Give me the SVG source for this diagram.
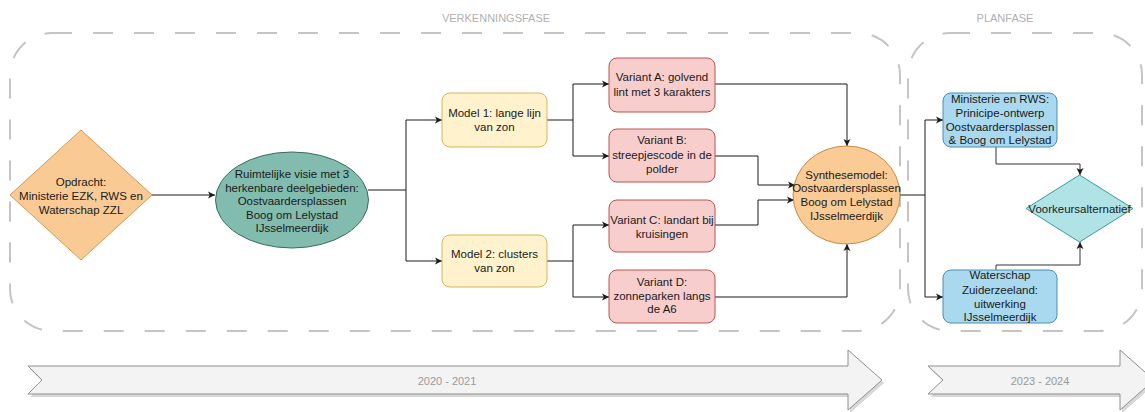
<svg xmlns="http://www.w3.org/2000/svg" width="1145" height="412" viewBox="0 0 1145 412">
<style>
.t{font-family:"Liberation Sans",Arial,sans-serif;font-size:11.5px;fill:#1a1a1a;text-anchor:middle}
.phase{font-family:"Liberation Sans",Arial,sans-serif;font-size:11px;fill:#b0b0b0;text-anchor:middle}
.yr{font-family:"Liberation Sans",Arial,sans-serif;font-size:11px;fill:#9a9a9a;text-anchor:middle}
.cont{fill:none;stroke:#c4c4c4;stroke-width:2;stroke-dasharray:20 21}
.model{fill:#fff2cc;stroke:#d6b656;stroke-width:1}
.var{fill:#f8cecc;stroke:#b85450;stroke-width:1}
.blue{fill:#a9d9ee;stroke:#4a8db5;stroke-width:1}
.c{fill:none;stroke:#1a1a1a;stroke-width:1}
.tl{fill:#f3f3f3;stroke:#8f8f8f;stroke-width:1}
</style>
<defs>
<marker id="ah" markerWidth="8" markerHeight="8" refX="7" refY="4" orient="auto" markerUnits="userSpaceOnUse">
<path d="M0,0.5 L7,4 L0,7.5 L1.8,4 Z" fill="#1a1a1a"/>
</marker>
<linearGradient id="tg" x1="0" y1="0" x2="0" y2="1">
<stop offset="0" stop-color="#fbfbfb"/>
<stop offset="1" stop-color="#ececec"/>
</linearGradient>
</defs>

<!-- phase containers -->
<g id="verkenningsfase">
<rect class="cont" x="10" y="33" width="890" height="298" rx="42" ry="42"/>
<text class="phase" x="496" y="22">VERKENNINGSFASE</text>
</g>
<g id="planfase">
<rect class="cont" x="908" y="33" width="234" height="298" rx="42" ry="42"/>
<text class="phase" x="1005" y="22">PLANFASE</text>
</g>

<!-- connectors -->
<g id="connectors">
<path class="c" d="M152,195 L215,195" marker-end="url(#ah)"/>
<path class="c" d="M368,190 L406,190 M406,120 L406,261"/>
<path class="c" d="M406,120 L442,120" marker-end="url(#ah)"/>
<path class="c" d="M406,261 L442,261" marker-end="url(#ah)"/>
<path class="c" d="M547,120 L573,120 M573,84 L573,156"/>
<path class="c" d="M573,84 L609,84" marker-end="url(#ah)"/>
<path class="c" d="M573,156 L609,156" marker-end="url(#ah)"/>
<path class="c" d="M547,261 L573,261 M573,225 L573,297"/>
<path class="c" d="M573,225 L609,225" marker-end="url(#ah)"/>
<path class="c" d="M573,297 L609,297" marker-end="url(#ah)"/>
<path class="c" d="M715,84 L847,84 L847,146" marker-end="url(#ah)"/>
<path class="c" d="M715,156 L758,156 L758,185 L795,185" marker-end="url(#ah)"/>
<path class="c" d="M715,225 L758,225 L758,200 L794,200" marker-end="url(#ah)"/>
<path class="c" d="M715,297 L847,297 L847,244" marker-end="url(#ah)"/>
<path class="c" d="M900,195 L925,195 M925,120 L925,297"/>
<path class="c" d="M925,120 L943,120" marker-end="url(#ah)"/>
<path class="c" d="M925,297 L943,297" marker-end="url(#ah)"/>
<path class="c" d="M996,147 L996,164 L1080,164 L1080,175" marker-end="url(#ah)" style="stroke:#333"/>
<path class="c" d="M996,270 L996,265 L1080,265 L1080,242" marker-end="url(#ah)" style="stroke:#333"/>
</g>

<!-- nodes -->
<g id="opdracht">
<polygon points="81,130 152,195 81,260 10,195" fill="#f9ca94" stroke="#d39a55" stroke-width="1"/>
<text class="t" x="81" y="185.5">Opdracht:</text>
<text class="t" x="81" y="199.5">Ministerie EZK, RWS en</text>
<text class="t" x="81" y="213.5">Waterschap ZZL</text>
</g>
<g id="ruimtelijke-visie">
<ellipse cx="292" cy="200" rx="76.5" ry="48" fill="#82bcae" stroke="#3b6b60" stroke-width="1"/>
<text class="t" x="292" y="178">Ruimtelijke visie met 3</text>
<text class="t" x="292" y="191.5">herkenbare deelgebieden:</text>
<text class="t" x="292" y="205">Oostvaardersplassen</text>
<text class="t" x="292" y="218.5">Boog om Lelystad</text>
<text class="t" x="292" y="232">IJsselmeerdijk</text>
</g>
<g id="model1">
<rect class="model" x="442" y="93" width="105" height="54" rx="8"/>
<text class="t" x="494.5" y="117">Model 1: lange lijn</text>
<text class="t" x="494.5" y="131">van zon</text>
</g>
<g id="model2">
<rect class="model" x="442" y="235" width="105" height="52" rx="8"/>
<text class="t" x="494.5" y="258">Model 2: clusters</text>
<text class="t" x="494.5" y="272">van zon</text>
</g>
<g id="variantA">
<rect class="var" x="609" y="58" width="106" height="54" rx="8"/>
<text class="t" x="662" y="81">Variant A: golvend</text>
<text class="t" x="662" y="96">lint met 3 karakters</text>
</g>
<g id="variantB">
<rect class="var" x="609" y="129" width="106" height="53" rx="8"/>
<text class="t" x="662" y="144">Variant B:</text>
<text class="t" x="662" y="159">streepjescode in de</text>
<text class="t" x="662" y="173">polder</text>
</g>
<g id="variantC">
<rect class="var" x="609" y="200" width="106" height="52" rx="8"/>
<text class="t" x="662" y="224">Variant C: landart bij</text>
<text class="t" x="662" y="238">kruisingen</text>
</g>
<g id="variantD">
<rect class="var" x="609" y="270" width="106" height="53" rx="8"/>
<text class="t" x="662" y="286">Variant D:</text>
<text class="t" x="662" y="300">zonneparken langs</text>
<text class="t" x="662" y="313">de A6</text>
</g>
<g id="synthesemodel">
<ellipse cx="846.5" cy="195" rx="53.5" ry="49" fill="#fbcb95" stroke="#c88b43" stroke-width="1"/>
<text class="t" x="846.5" y="179">Synthesemodel:</text>
<text class="t" x="846.5" y="192">Oostvaardersplassen</text>
<text class="t" x="846.5" y="206">Boog om Lelystad</text>
<text class="t" x="846.5" y="219.5">IJsselmeerdijk</text>
</g>
<g id="ministerie">
<rect class="blue" x="943" y="93" width="114" height="54" rx="8"/>
<text class="t" x="1000" y="103">Ministerie en RWS:</text>
<text class="t" x="1000" y="117">Prinicipe-ontwerp</text>
<text class="t" x="1000" y="131">Oostvaardersplassen</text>
<text class="t" x="1000" y="144">&amp; Boog om Lelystad</text>
</g>
<g id="waterschap">
<rect class="blue" x="943" y="270" width="114" height="53" rx="8"/>
<text class="t" x="1000" y="279">Waterschap</text>
<text class="t" x="1000" y="294">Zuiderzeeland:</text>
<text class="t" x="1000" y="308">uitwerking</text>
<text class="t" x="1000" y="321">IJsselmeerdijk</text>
</g>
<g id="voorkeursalternatief">
<polygon points="1079.5,175 1133,208.5 1079.5,242 1026,208.5" fill="#b0e3e6" stroke="#3a9a9e" stroke-width="1" stroke-linejoin="round"/>
<text class="t" x="1079.5" y="212.5">Voorkeursalternatief</text>
</g>

<!-- timeline -->
<g id="timeline-2020-2021">
<path d="M30,369 L850,369 L850,353 L884,383 L850,413 L850,397 L30,397 L44,383 Z" fill="#bdbdbd" opacity="0.6"/>
<path class="tl" d="M28,366 L848,366 L848,350 L882,380 L848,410 L848,394 L28,394 L42,380 Z" fill="url(#tg)"/>
<text class="yr" x="447" y="384.5">2020  -  2021</text>
</g>
<g id="timeline-2023-2024">
<path d="M930,369 L1122,369 L1122,353 L1156,383 L1122,413 L1122,397 L930,397 L945,383 Z" fill="#bdbdbd" opacity="0.6"/>
<path class="tl" d="M928,366 L1120,366 L1120,350 L1154,380 L1120,410 L1120,394 L928,394 L943,380 Z" fill="url(#tg)"/>
<text class="yr" x="1040" y="384.5">2023 - 2024</text>
</g>
</svg>
